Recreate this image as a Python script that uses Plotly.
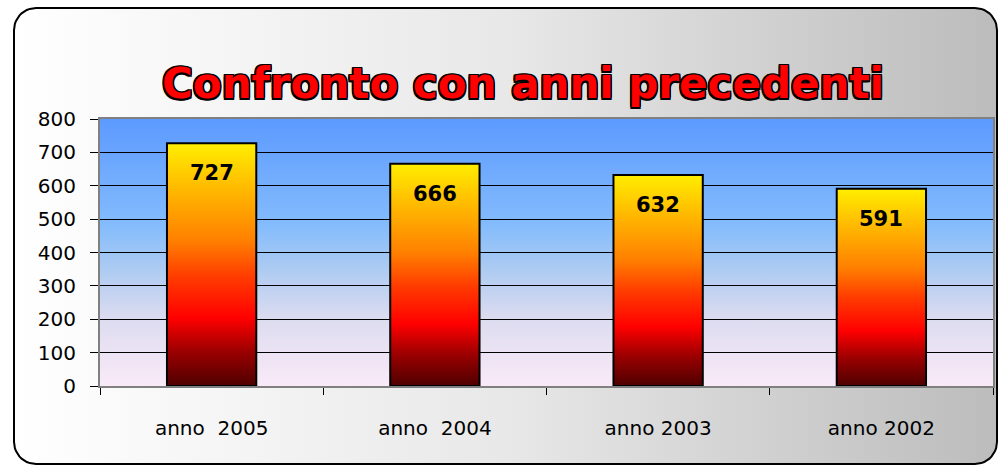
import numpy as np
import plotly.graph_objects as go

# ---- data ----
categories = ["anno\u00a0 2005", "anno\u00a0 2004", "anno 2003", "anno 2002"]
values = [727, 666, 632, 591]
y_ticks = [0, 100, 200, 300, 400, 500, 600, 700, 800]
title_text = "Confronto con anni precedenti"

W, H = 1002, 469
X_RANGE = [-0.5, len(categories) - 0.5]
Y_RANGE = [0, 800]
BAR_HALF = 0.2
dom_x = [100 / W, 993 / W]
dom_y = [(H - 386) / H, (H - 119) / H]

fig = go.Figure()

# ---- rounded background card (pixel space on hidden axes) ----
x0, x1, y0, y1, r = 14, 997, 8, 464, 22
pts_x, pts_y = [], []
corners = [(x1 - r, y0 + r, -90, 0), (x1 - r, y1 - r, 0, 90),
           (x0 + r, y1 - r, 90, 180), (x0 + r, y0 + r, 180, 270)]
for cx, cy, a0, a1 in corners:
    a = np.radians(np.linspace(a0, a1, 12))
    pts_x += list(cx + r * np.cos(a))
    pts_y += list(cy + r * np.sin(a))
pts_x.append(pts_x[0]); pts_y.append(pts_y[0])
fig.add_trace(go.Scatter(
    x=pts_x, y=pts_y, mode="lines", fill="toself",
    fillgradient=dict(type="horizontal", start=x0, stop=x1,
                      colorscale=[[0, "#ffffff"], [0.5, "#e8e8e8"], [1, "#bcbcbc"]]),
    line=dict(color="#000000", width=2), hoverinfo="skip", showlegend=False,
    xaxis="x", yaxis="y"))

# ---- plot-area gradient (x2/y2, same domain as chart) ----
fig.add_trace(go.Scatter(
    x=[X_RANGE[0], X_RANGE[1], X_RANGE[1], X_RANGE[0], X_RANGE[0]],
    y=[Y_RANGE[0], Y_RANGE[0], Y_RANGE[1], Y_RANGE[1], Y_RANGE[0]],
    mode="lines", fill="toself", line=dict(width=0, color="rgba(0,0,0,0)"),
    fillgradient=dict(type="vertical", start=Y_RANGE[0], stop=Y_RANGE[1],
                      colorscale=[[0, "#faeaf8"], [0.25, "#dddcf0"], [0.45, "#aacaf2"],
                                  [0.6, "#84bcfc"], [1, "#5c9aff"]]),
    hoverinfo="skip", showlegend=False, xaxis="x2", yaxis="y2"))

# ---- bars (x3/y3) ----
bar_scale = [[0, "#4e0000"], [0.14, "#9a0000"], [0.28, "#ff0000"], [0.45, "#ff3c00"],
             [0.6, "#ff8000"], [0.82, "#ffbb00"], [1, "#ffee00"]]
for i, v in enumerate(values):
    fig.add_trace(go.Scatter(
        x=[i - BAR_HALF, i + BAR_HALF, i + BAR_HALF, i - BAR_HALF, i - BAR_HALF],
        y=[0, 0, v, v, 0], mode="lines", fill="toself",
        fillgradient=dict(type="vertical", start=0, stop=v, colorscale=bar_scale),
        line=dict(color="#000000", width=2), name=categories[i],
        hovertemplate=f"{categories[i]}: {v}<extra></extra>", showlegend=False,
        xaxis="x3", yaxis="y3"))
    fig.add_annotation(x=i, y=v, xref="x3", yref="y3", text=f"<b>{v}</b>",
                       showarrow=False, yanchor="middle", yshift=-30,
                       font=dict(family="DejaVu Sans", size=21, color="#000000"))

# ---- title ----
sh = "#000"
d = "1.5px"
fig.add_annotation(
    x=523 / W, y=1 - 84 / H, xref="paper", yref="paper", text=f"<b>{title_text}</b>",
    showarrow=False, xanchor="center", yanchor="middle",
    font=dict(family="DejaVu Sans", size=42, color="#ff0000",
              shadow=(f"-{d} -{d} 0 {sh}, {d} -{d} 0 {sh}, -{d} {d} 0 {sh}, {d} {d} 0 {sh},"
                      f" 0 {d} 0 {sh}, 0 -{d} 0 {sh}, {d} 0 0 {sh}, -{d} 0 0 {sh}")))

hidden = dict(visible=False, showgrid=False, zeroline=False, fixedrange=True)
fig.update_layout(
    width=W, height=H, margin=dict(l=0, r=0, t=0, b=0, pad=0, autoexpand=False),
    showlegend=False,
    paper_bgcolor="#ffffff", plot_bgcolor="rgba(0,0,0,0)",
    xaxis=dict(domain=[0, 1], range=[0, W], anchor="y", **hidden),
    yaxis=dict(domain=[0, 1], range=[H, 0], anchor="x", **hidden),
    xaxis2=dict(domain=dom_x, range=X_RANGE, anchor="y2", **hidden),
    yaxis2=dict(domain=dom_y, range=Y_RANGE, anchor="x2", **hidden),
    xaxis3=dict(domain=dom_x, range=X_RANGE, anchor="y3",
                tickmode="array", tickvals=list(range(len(categories))), ticktext=categories,
                ticks="outside", ticklen=23, tickcolor="rgba(0,0,0,0)",
                tickfont=dict(family="DejaVu Sans", size=20, color="#000000"),
                minor=dict(tickmode="array",
                           tickvals=[k - 0.5 for k in range(len(categories) + 1)],
                           ticks="outside", ticklen=7, tickcolor="#000000", tickwidth=1,
                           showgrid=False),
                showline=True, linecolor="#808080", linewidth=2, mirror=True,
                showgrid=False, zeroline=False, fixedrange=True, automargin=False),
    yaxis3=dict(domain=dom_y, range=Y_RANGE, anchor="x3",
                tickmode="array", tickvals=y_ticks,
                ticks="outside", ticklen=8, tickcolor="#000000", tickwidth=1,
                ticklabelstandoff=10,
                tickfont=dict(family="DejaVu Sans", size=20, color="#000000"),
                showline=True, linecolor="#808080", linewidth=2, mirror=True,
                showgrid=True, gridcolor="#000000", gridwidth=1,
                zeroline=False, fixedrange=True, automargin=False),
)

fig.write_html("out.html", config={"displayModeBar": False},
               post_script="document.body.style.margin='0px';document.body.style.overflow='hidden';")
